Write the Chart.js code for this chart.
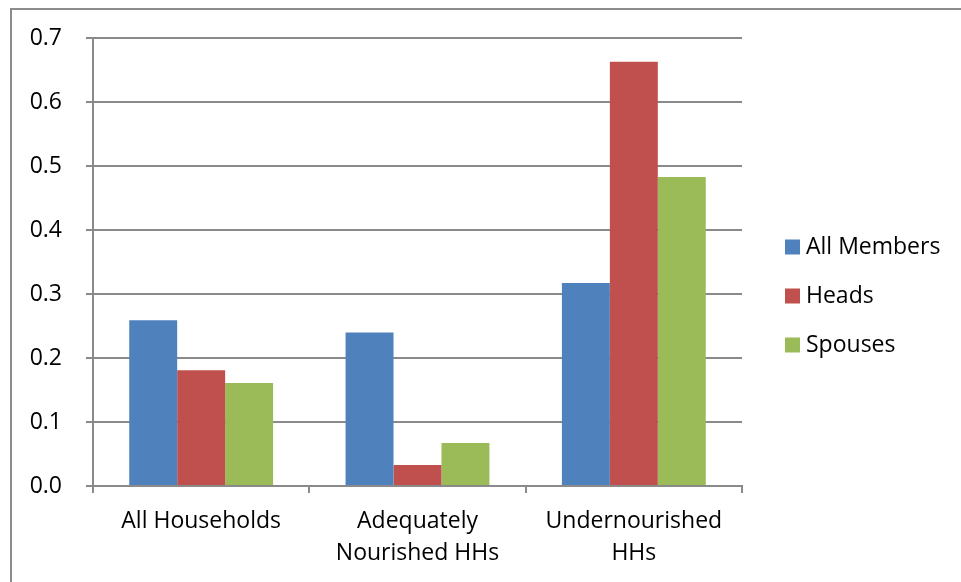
<!DOCTYPE html>
<html>
<head>
<meta charset="utf-8">
<script src="https://cdn.jsdelivr.net/npm/chart.js@4/dist/chart.umd.min.js"></script>
<style>
  html, body { margin: 0; padding: 0; background: #ffffff; }
  #wrap { width: 961px; height: 582px; position: relative; }
</style>
</head>
<body>
<div id="wrap"><canvas id="chart" width="961" height="582"></canvas></div>
<script>
// Categories (multi-line labels) and series
const categories = [["All Households"], ["Adequately", "Nourished HHs"], ["Undernourished", "HHs"]];
const seriesNames = ["All Members", "Heads", "Spouses"];
const allMembers = [0.259, 0.240, 0.317];
const heads = [0.181, 0.033, 0.663];
const spouses = [0.161, 0.067, 0.483];

// Value axis range and tick step
const yMin = 0;
const yMax = 0.7;
const yStep = 0.1;

const seriesColors = ["#4F81BD", "#C0504D", "#9BBB59"];
const gridColor = "#8a8a8a";
const fontFamily = "'Open Sans', 'Noto Sans', sans-serif";
const fontSize = 23;

// Outer frame (top and left edges) around the figure
const framePlugin = {
  id: "frame",
  beforeDraw(chart) {
    const ctx = chart.ctx;
    ctx.save();
    ctx.strokeStyle = "#8c8c8c";
    ctx.lineWidth = 2;
    ctx.beginPath();
    ctx.moveTo(11, chart.height);
    ctx.lineTo(11, 9);
    ctx.lineTo(chart.width, 9);
    ctx.stroke();
    ctx.restore();
  }
};

// Legend drawn to the right of the plot, one row per dataset
const sideLegend = {
  id: "sideLegend",
  afterDraw(chart) {
    const ctx = chart.ctx;
    const x = 785, boxSize = 15, rowGap = 49;
    const yFirst = 247;
    ctx.save();
    ctx.font = fontSize + "px " + fontFamily;
    ctx.textBaseline = "middle";
    ctx.textAlign = "left";
    chart.data.datasets.forEach((ds, i) => {
      const cy = yFirst + i * rowGap;
      ctx.fillStyle = ds.backgroundColor;
      ctx.fillRect(x, cy - boxSize / 2, boxSize, boxSize);
      ctx.fillStyle = "#000000";
      ctx.fillText(ds.label, x + boxSize + 6, cy);
    });
    ctx.restore();
  }
};

const seriesValues = [allMembers, heads, spouses];

new Chart(document.getElementById("chart"), {
  type: "bar",
  data: {
    labels: categories,
    datasets: seriesNames.map((name, i) => ({
      label: name,
      data: seriesValues[i],
      backgroundColor: seriesColors[i],
      borderWidth: 0,
      barPercentage: 1.0,
      categoryPercentage: 0.665
    }))
  },
  options: {
    responsive: false,
    devicePixelRatio: 1,
    animation: false,
    layout: { padding: { top: 38, right: 219, left: 0, bottom: 0 } },
    plugins: {
      legend: { display: false },
      tooltip: { enabled: false },
      title: { display: false }
    },
    scales: {
      x: {
        afterFit(scale) { scale.height = 96; },
        grid: {
          display: true,
          offset: true,
          drawOnChartArea: false,
          drawTicks: true,
          tickLength: 7,
          color: gridColor,
          lineWidth: 2
        },
        border: { display: true, color: gridColor, width: 2 },
        ticks: {
          color: "#000000",
          padding: 13,
          maxRotation: 0,
          autoSkip: false,
          font: { family: fontFamily, size: fontSize, lineHeight: 1.38 }
        }
      },
      y: {
        min: yMin,
        max: yMax,
        afterFit(scale) { scale.width = 93; },
        grid: {
          color: gridColor,
          lineWidth: 2,
          drawTicks: true,
          tickLength: 7
        },
        border: { display: true, color: gridColor, width: 2 },
        ticks: {
          stepSize: yStep,
          color: "#000000",
          padding: 24,
          font: { family: fontFamily, size: fontSize },
          callback: (v) => Number(v).toFixed(1)
        }
      }
    }
  },
  plugins: [framePlugin, sideLegend]
});
</script>
</body>
</html>
